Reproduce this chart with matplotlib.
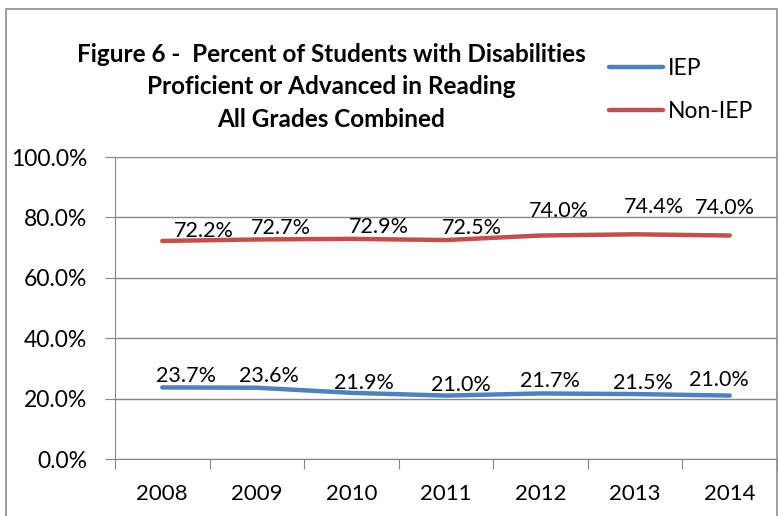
import matplotlib
matplotlib.use("Agg")
import matplotlib.pyplot as plt
from matplotlib.patches import Rectangle
from matplotlib.ticker import FixedLocator, NullFormatter

#%% Data #####################################################################
years = ["2008", "2009", "2010", "2011", "2012", "2013", "2014"]
iep = [23.7, 23.6, 21.9, 21.0, 21.7, 21.5, 21.0]
non_iep = [72.2, 72.7, 72.9, 72.5, 74.0, 74.4, 74.0]

title = ("Figure 6 -  Percent of Students with Disabilities\n"
         "Proficient or Advanced in Reading\n"
         "All Grades Combined")

# label offsets in pixels (dx right, dy up), placed by hand like the original
iep_off = [(24, 11), (12, 12), (13, 10), (15, 11), (9, 12), (8, 11), (-11, 16)]
non_off = [(42, 10), (24, 11), (27, 12), (26, 12), (18, 25), (19, 27), (-5, 28)]

#%% Plot #####################################################################
plt.rcParams['font.family'] = ['Lato', 'DejaVu Sans']
W, H = 778, 516
fig = plt.figure(figsize=(W / 100, H / 100), dpi=100)
ax = fig.add_axes([115 / W, 1 - 459 / H, 662 / W, 302 / H])

grey = "#868686"
blue = "#4F81BD"
red = "#C0504D"

x = [i + 0.5 for i in range(len(years))]
ax.plot(x, iep, color=blue, lw=3.2, solid_capstyle="round", label="IEP")
ax.plot(x, non_iep, color=red, lw=3.2, solid_capstyle="round", label="Non-IEP")

for xi, v, (dx, dy) in zip(x, iep, iep_off):
    ax.annotate("%.1f%%" % v, (xi, v), xytext=(dx * 0.72, dy * 0.72),
                textcoords="offset points", ha="center", va="center", fontsize=15.5)
for xi, v, (dx, dy) in zip(x, non_iep, non_off):
    ax.annotate("%.1f%%" % v, (xi, v), xytext=(dx * 0.72, dy * 0.72),
                textcoords="offset points", ha="center", va="center", fontsize=15.5)

ax.set_xlim(0, len(years))
ax.set_ylim(0, 100)
ax.set_yticks(range(0, 101, 20))
ax.set_yticklabels(["%.1f%%" % t for t in range(0, 101, 20)], fontsize=16.5)
ax.yaxis.grid(True, color=grey, lw=1)
ax.set_axisbelow(True)

ax.xaxis.set_major_locator(FixedLocator(range(len(years) + 1)))
ax.xaxis.set_major_formatter(NullFormatter())
ax.xaxis.set_minor_locator(FixedLocator(x))
ax.set_xticks(x, years, minor=True, fontsize=16)
ax.tick_params(axis="x", which="major", direction="out", length=7, color=grey)
ax.tick_params(axis="x", which="minor", length=0, pad=18)
ax.tick_params(axis="y", direction="out", length=7, color=grey, pad=13)

for s in ["top", "right"]:
    ax.spines[s].set_visible(False)
for s in ["left", "bottom"]:
    ax.spines[s].set_color(grey)

fig.text(331 / W, 1 - 87 / H, title, ha="center", va="center",
         fontsize=17.5, fontweight="bold", linespacing=1.48)

fig.legend(loc="upper left", bbox_to_anchor=(600 / W, 1 - 49 / H),
           frameon=False, fontsize=16.5, handlelength=2.35, handletextpad=0.2,
           labelspacing=0.95, borderaxespad=0)

fig.patches.append(Rectangle((6 / W, -0.05), 771 / W, 1.05 - 9 / H,
                             transform=fig.transFigure, fill=False,
                             edgecolor="#8c8c8c", lw=1.2))

fig.savefig("out.png", dpi=100)
